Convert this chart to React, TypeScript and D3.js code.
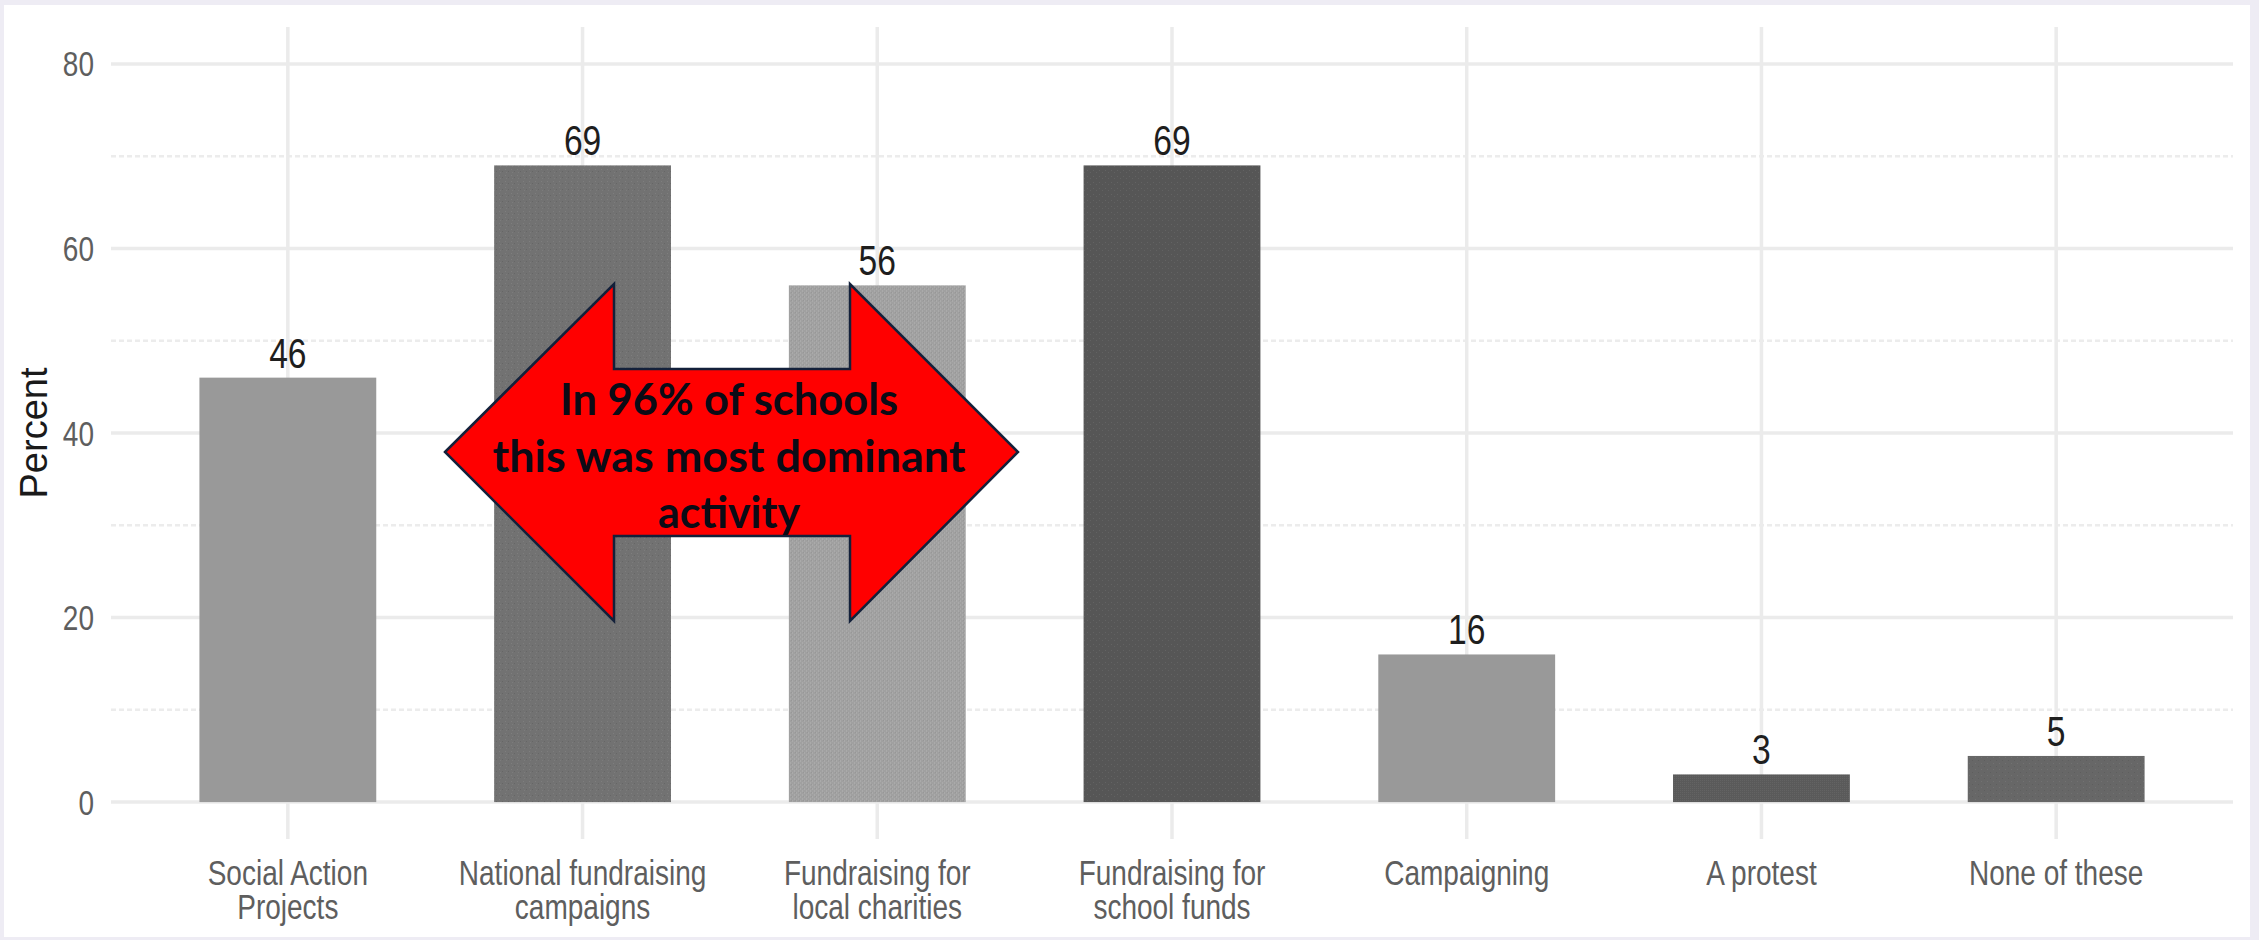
import React from "react";
import * as d3 from "d3";

const categories: string[][] = [
  ["Social Action", "Projects"],
  ["National fundraising", "campaigns"],
  ["Fundraising for", "local charities"],
  ["Fundraising for", "school funds"],
  ["Campaigning"],
  ["A protest"],
  ["None of these"],
];
const values: number[] = [46, 69, 56, 69, 16, 3, 5];
const majorTicks: number[] = [0, 20, 40, 60, 80];
const minorTicks: number[] = [10, 30, 50, 70];
const barFills: string[] = ["#999999", "url(#p2)", "url(#p3)", "url(#p4)", "#999999", "url(#p6)", "url(#p7)"];
const annotationLines: string[] = ["In 96% of schools", "this was most dominant", "activity"];
const annotationWidths: number[] = [338, 473, 142];

const W = 2259;
const H = 940;
const SX = 0.8; // horizontal squeeze of the original chart's text

export default function App() {
  const keys = categories.map((c) => c.join(" "));
  const x = d3.scaleBand<string>().domain(keys).range([111, 2233]).paddingInner(0.4).paddingOuter(0.3);
  const y = d3.scaleLinear().domain([-4, 84]).range([839, 27]);
  const bw = x.bandwidth();

  // annotation arrow (double-headed)
  const ax0 = 445, ax1 = 1018, hx0 = 614, hx1 = 850, hy0 = 284, hy1 = 621, sy0 = 369, sy1 = 536, ay = 452;
  const arrowPts = [
    [ax0, ay], [hx0, hy0], [hx0, sy0], [hx1, sy0], [hx1, hy0], [ax1, ay],
    [hx1, hy1], [hx1, sy1], [hx0, sy1], [hx0, hy1],
  ];
  const arrowPath = d3.line()(arrowPts as [number, number][]) + "Z";
  const acx = 729;

  const squeezed = (tx: number, ty: number, content: React.ReactNode, key?: any) => (
    <g key={key} transform={`translate(${tx},${ty}) scale(${SX},1)`}>{content}</g>
  );

  return (
    <svg width={W} height={H} style={{ position: "absolute", left: 0, top: 0, display: "block" }}
      fontFamily="'Liberation Sans', Arial, sans-serif">
      <defs>
        <pattern id="p2" width="6" height="6" patternUnits="userSpaceOnUse">
          <rect width="6" height="6" fill="#727272" />
          <rect x="1" y="1" width="1" height="1" fill="#7e7e7e" />
          <rect x="4" y="3" width="1" height="1" fill="#666" />
          <rect x="2" y="4" width="1" height="1" fill="#7c7c7c" />
        </pattern>
        <pattern id="p3" width="4" height="4" patternUnits="userSpaceOnUse">
          <rect width="4" height="4" fill="#a0a0a0" />
          <rect x="0" y="0" width="1" height="2" fill="#aaaaaa" />
          <rect x="2" y="2" width="1" height="2" fill="#aaaaaa" />
          <rect x="3" y="0" width="1" height="1" fill="#979797" />
        </pattern>
        <pattern id="p4" width="6" height="6" patternUnits="userSpaceOnUse">
          <rect width="6" height="6" fill="#565656" />
          <rect x="1" y="2" width="1" height="1" fill="#636363" />
          <rect x="4" y="4" width="1" height="1" fill="#626262" />
        </pattern>
        <pattern id="p6" width="2" height="2" patternUnits="userSpaceOnUse">
          <rect width="2" height="2" fill="#5a5a5a" />
          <rect x="0" y="0" width="1" height="1" fill="#636363" />
        </pattern>
        <pattern id="p7" width="6" height="6" patternUnits="userSpaceOnUse">
          <rect width="6" height="6" fill="#676767" />
          <rect x="1" y="1" width="1" height="1" fill="#727272" />
          <rect x="4" y="4" width="1" height="1" fill="#5e5e5e" />
        </pattern>
      </defs>

      <rect x={0} y={0} width={W} height={H} fill="#eeecf4" />
      <rect x={4} y={5} width={2246} height={932} fill="#ffffff" />

      {/* grid */}
      {minorTicks.map((t) => (
        <line key={"mi" + t} x1={111} x2={2233} y1={y(t)} y2={y(t)} stroke="#ececec" strokeWidth={2.5} strokeDasharray="5,3" />
      ))}
      {majorTicks.map((t) => (
        <line key={"ma" + t} x1={111} x2={2233} y1={y(t)} y2={y(t)} stroke="#ebebeb" strokeWidth={3.5} />
      ))}
      {keys.map((k) => (
        <line key={"v" + k} x1={x(k)! + bw / 2} x2={x(k)! + bw / 2} y1={27} y2={839} stroke="#ebebeb" strokeWidth={3.5} />
      ))}

      {/* bars */}
      {keys.map((k, i) => (
        <rect key={"b" + k} x={x(k)!} y={y(values[i])} width={bw} height={y(0) - y(values[i])} fill={barFills[i]} />
      ))}

      {/* value labels */}
      {keys.map((k, i) =>
        squeezed(x(k)! + bw / 2, y(values[i]) - 10,
          <text textAnchor="middle" fontSize={42} fill="#1e1e1e">{values[i]}</text>, "vl" + k)
      )}

      {/* y tick labels */}
      {majorTicks.map((t) =>
        squeezed(94, y(t) + 12.5,
          <text textAnchor="end" fontSize={35} fill="#5e5e5e">{t}</text>, "yt" + t)
      )}

      {/* x tick labels */}
      {keys.map((k, i) =>
        squeezed(x(k)! + bw / 2, 885,
          <text textAnchor="middle" fontSize={35} fill="#5e5e5e">
            {categories[i].map((line, j) => (
              <tspan key={j} x={0} dy={j === 0 ? 0 : 34}>{line}</tspan>
            ))}
          </text>, "xl" + k)
      )}

      {/* y axis title */}
      <text transform="translate(47,433) rotate(-90)" textAnchor="middle" fontSize={38} fill="#1a1a1a">Percent</text>

      {/* annotation */}
      <path d={arrowPath} fill="#ff0000" stroke="#13203a" strokeWidth={2.5} strokeLinejoin="miter" />
      {annotationLines.map((l, i) => (
        <text key={"an" + i} x={acx} y={415 + i * 56.5} textAnchor="middle" fontSize={43} fontWeight="bold"
          fontFamily="Lato, 'Open Sans', sans-serif" fill="#0b0b16"
          textLength={annotationWidths[i]} lengthAdjust="spacingAndGlyphs">{l}</text>
      ))}
    </svg>
  );
}
